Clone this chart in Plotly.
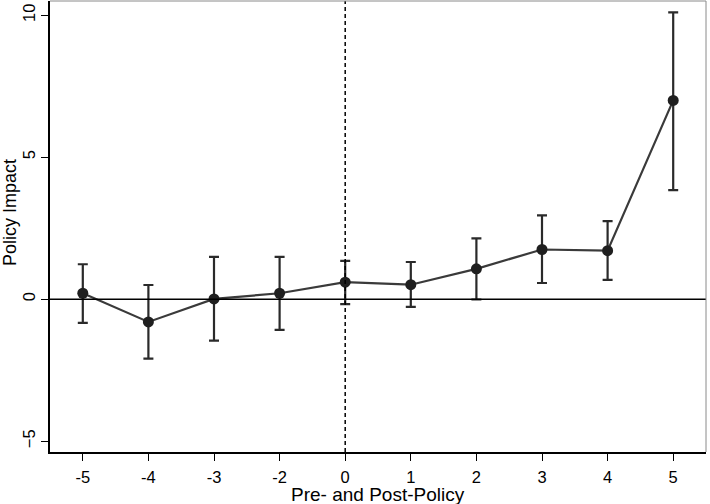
import plotly.graph_objects as go

periods = ["-5", "-4", "-3", "-2", "0", "1", "2", "3", "4", "5"]
impact = [0.21, -0.80, 0.01, 0.21, 0.60, 0.51, 1.07, 1.75, 1.71, 7.00]
ci_upper = [1.23, 0.50, 1.49, 1.49, 1.35, 1.31, 2.14, 2.95, 2.75, 10.10]
ci_lower = [-0.83, -2.09, -1.46, -1.08, -0.17, -0.27, -0.01, 0.57, 0.68, 3.84]
y_ticks = [-5, 0, 5, 10]
x_title = "Pre- and Post-Policy"
y_title = "Policy Impact"

err_plus = [u - v for u, v in zip(ci_upper, impact)]
err_minus = [v - l for v, l in zip(impact, ci_lower)]

font_family = "Liberation Sans, Arial, sans-serif"
fig = go.Figure()

fig.add_trace(go.Scatter(
    x=periods, y=impact, mode="lines+markers",
    line=dict(color="#3a3a3a", width=2.2),
    marker=dict(color="#1f1f1f", size=11),
    error_y=dict(type="data", symmetric=False, array=err_plus, arrayminus=err_minus,
                 color="#2a2a2a", thickness=2.2, width=5),
    showlegend=False,
))

# reference lines
fig.add_shape(type="line", xref="paper", yref="y", x0=0, x1=1, y0=0, y1=0,
              line=dict(color="black", width=1.5))
policy_idx = periods.index("0")
fig.add_shape(type="line", xref="x", yref="paper", x0=policy_idx, x1=policy_idx, y0=0, y1=1,
              line=dict(color="black", width=1.5, dash="4px,3px"))
# light frame top/right
fig.add_shape(type="line", xref="paper", yref="paper", x0=0, x1=1, y0=1, y1=1,
              line=dict(color="#8a8a8a", width=1))
fig.add_shape(type="line", xref="paper", yref="paper", x0=1, x1=1, y0=0, y1=1,
              line=dict(color="#8a8a8a", width=1))

# axis titles
fig.add_annotation(text=x_title, xref="paper", yref="paper", x=0.5, y=0,
                   xanchor="center", yanchor="middle", yshift=-42, showarrow=False,
                   font=dict(size=19, family=font_family, color="black"))
fig.add_annotation(text=y_title, xref="paper", yref="paper", x=0, y=0.53,
                   xanchor="center", yanchor="middle", xshift=-40, textangle=-90,
                   showarrow=False,
                   font=dict(size=18, family=font_family, color="black"))

fig.update_layout(
    width=710, height=504,
    margin=dict(l=50, r=4, t=1, b=52),
    paper_bgcolor="white", plot_bgcolor="white",
    font=dict(family=font_family, size=16, color="black"),
    xaxis=dict(
        type="category", range=[-0.5, 9.5],
        showline=True, linecolor="black", linewidth=1.5,
        ticks="outside", ticklen=7, tickwidth=1.2, tickcolor="black",
        showgrid=False, zeroline=False,
        tickfont=dict(size=16.5), ticklabelstandoff=2,
    ),
    yaxis=dict(
        range=[-5.38, 10.5], tickvals=y_ticks,
        showline=True, linecolor="black", linewidth=1.5,
        ticks="outside", ticklen=7, tickwidth=1.2, tickcolor="black",
        showgrid=False, zeroline=False, tickangle=-90,
        tickfont=dict(size=16.5),
    ),
)

fig.write_html("out.html")
